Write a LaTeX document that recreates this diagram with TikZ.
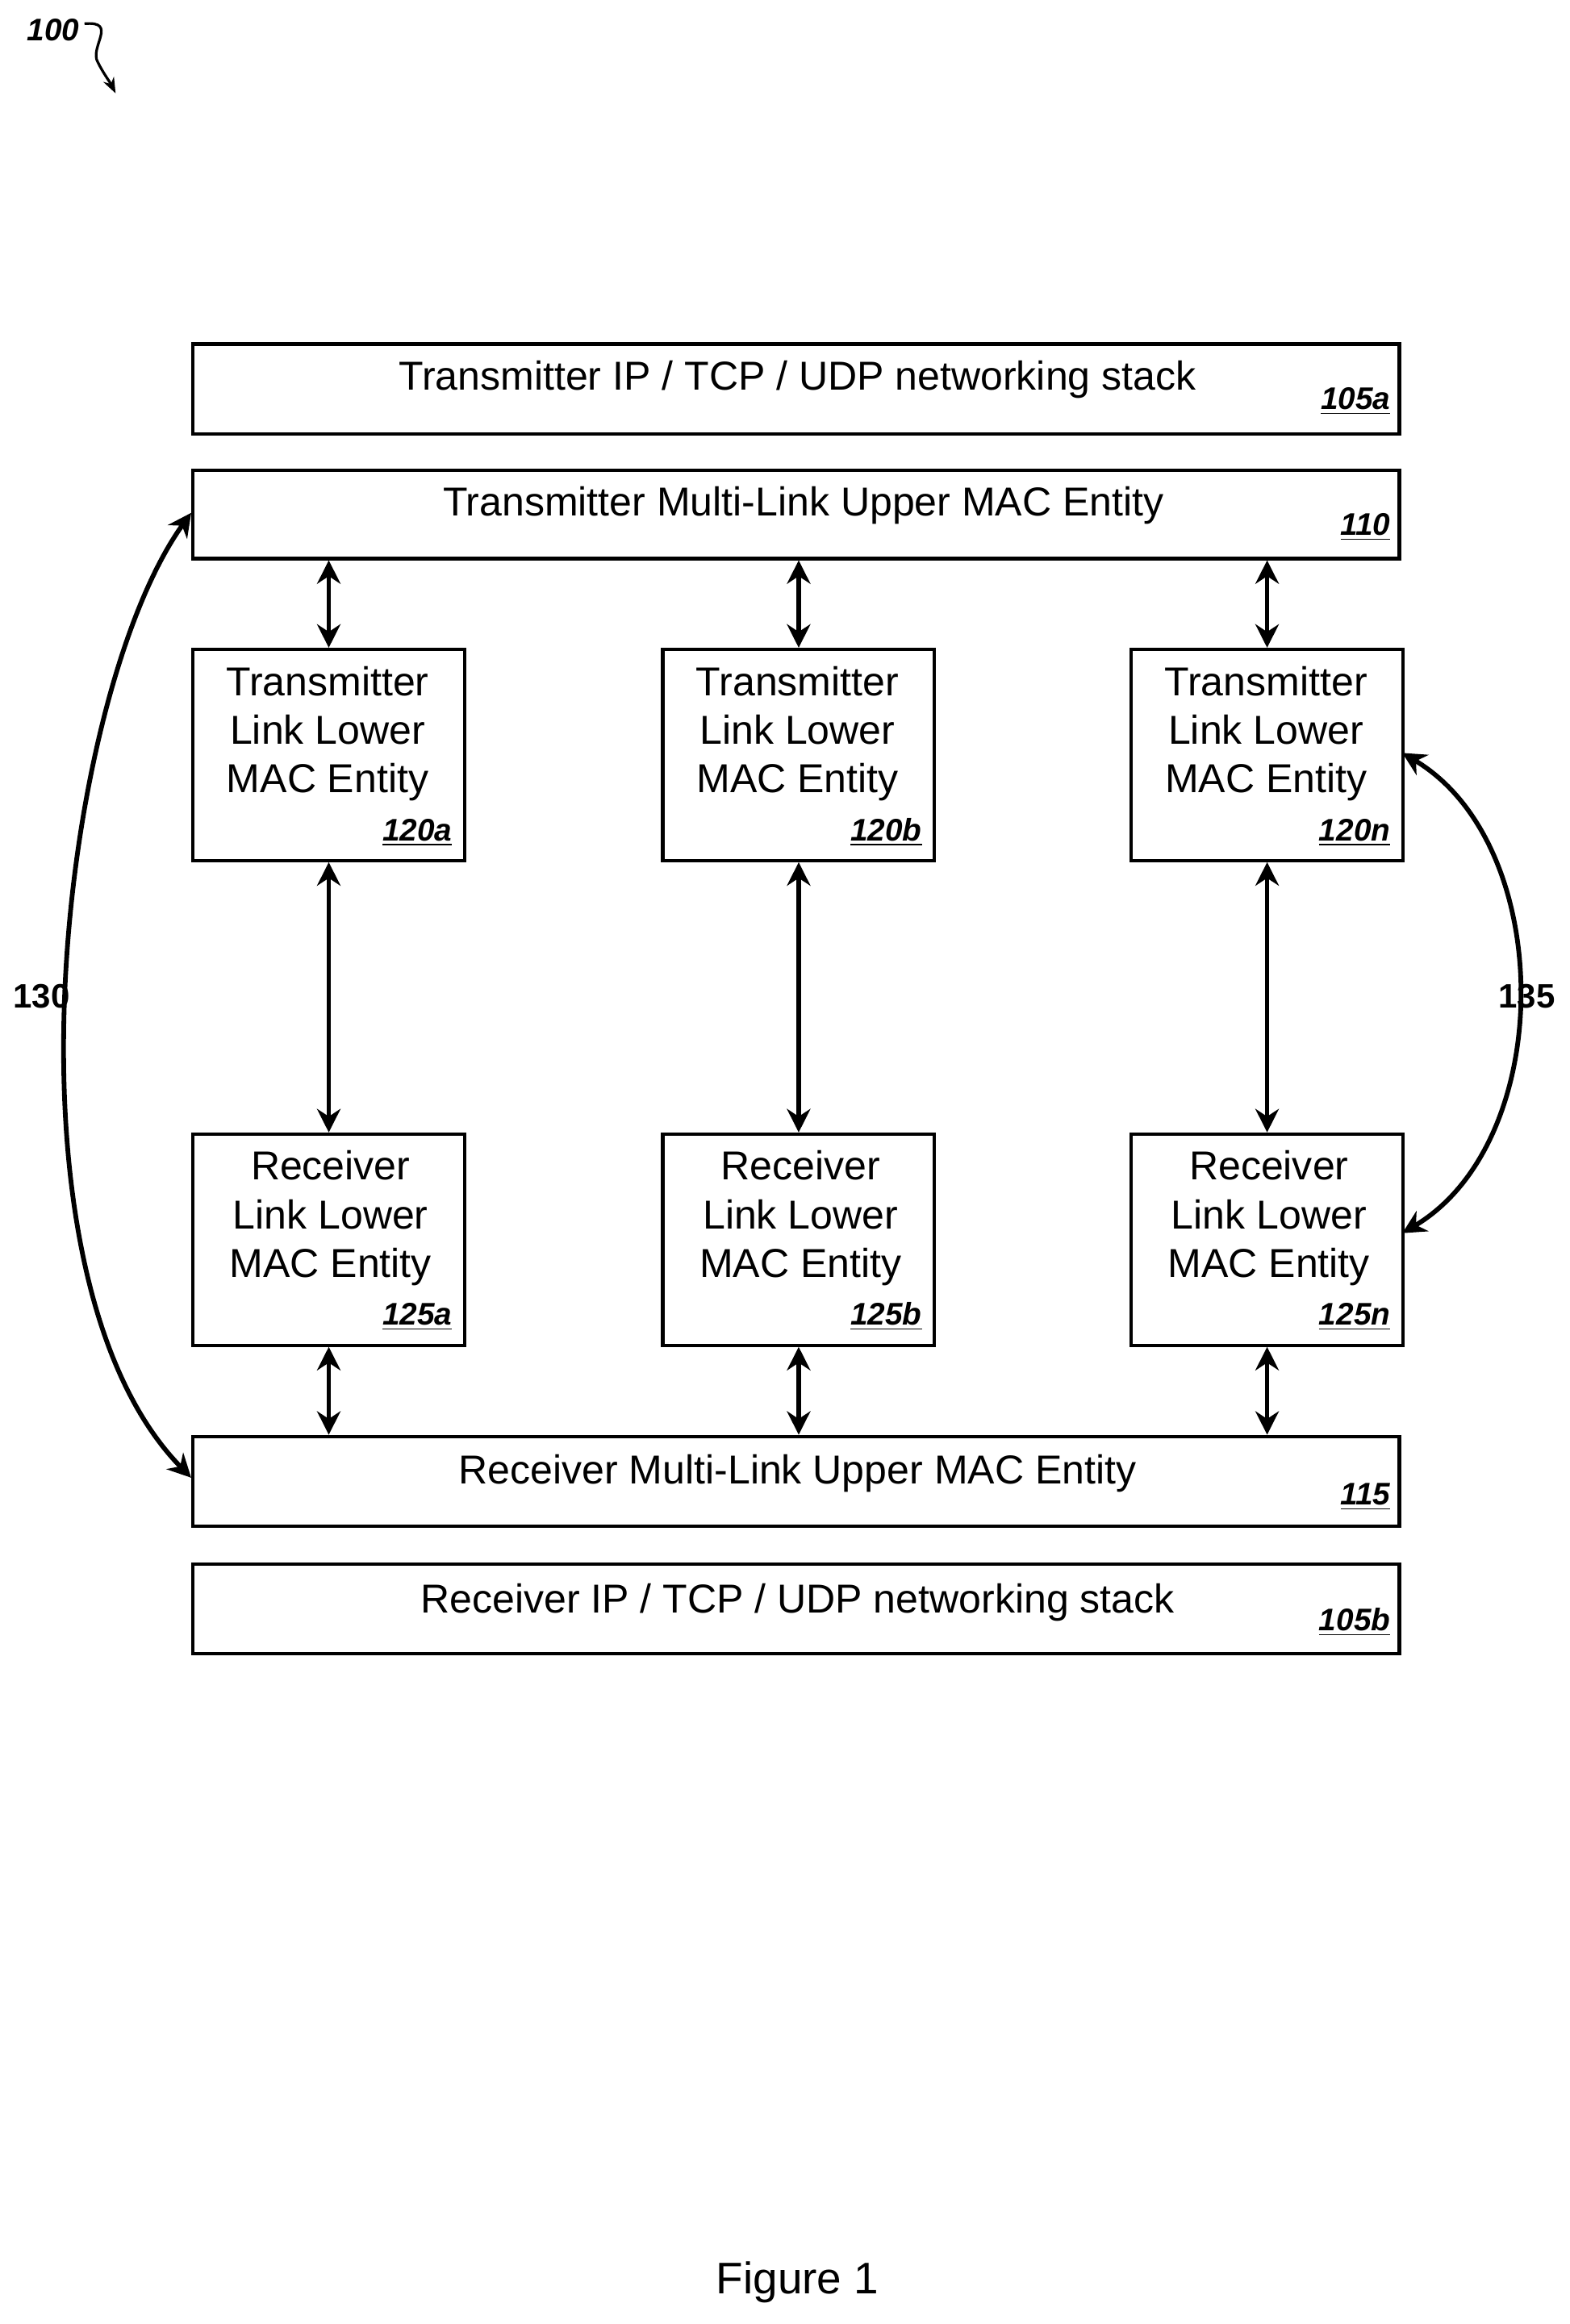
\documentclass[tikz,border=0pt]{standalone}
\usepackage{fontspec}
\setmainfont{Liberation Sans}
\usetikzlibrary{arrows.meta}
\begin{document}
\begin{tikzpicture}[x=0.02cm,y=-0.02cm,
 box/.style={draw,line width=1.3pt,inner sep=0},
 txt/.style={font=\fontsize{15.5}{18.7}\selectfont,align=center},
 lab/.style={font=\fontsize{12}{14}\selectfont\bfseries\itshape,anchor=south east,inner sep=1pt},
 arr/.style={line width=1.8pt,{Stealth[length=9pt,width=9pt]}-{Stealth[length=9pt,width=9pt]}}]
\useasboundingbox (0,0) rectangle (1059,1568);
\newcommand{\ul}[1]{\underline{#1}}
% wide boxes
\node[box,minimum width=817*0.567pt,minimum height=61*0.567pt,anchor=north west] (s105a) at (129,231) {};
\node[txt] at (538,256) {Transmitter IP / TCP / UDP networking stack};
\node[lab] at (940,282) {\ul{105a}};
\node[box,minimum width=817*0.567pt,minimum height=60*0.567pt,anchor=north west] (s110) at (129,316) {};
\node[txt] at (542,341) {Transmitter Multi-Link Upper MAC Entity};
\node[lab] at (940,367) {\ul{110}};
\node[box,minimum width=817*0.567pt,minimum height=61*0.567pt,anchor=north west] (s115) at (129,968) {};
\node[txt] at (538,994) {Receiver Multi-Link Upper MAC Entity};
\node[lab] at (940,1021) {\ul{115}};
\node[box,minimum width=817*0.567pt,minimum height=61*0.567pt,anchor=north west] (s105b) at (129,1054) {};
\node[txt] at (538,1081) {Receiver IP / TCP / UDP networking stack};
\node[lab] at (940,1106) {\ul{105b}};
% small boxes
\foreach \x/\s in {129/a,446/b,762/n}{
 \node[box,minimum width=184*0.567pt,minimum height=143*0.567pt,anchor=north west] (t\s) at (\x,437) {};
 \node[txt] at (\x+92,495) {Transmitter\\Link Lower\\MAC Entity};
 \node[lab] at (\x+178,573) {\ul{120\s}};
 \node[box,minimum width=184*0.567pt,minimum height=143*0.567pt,anchor=north west] (r\s) at (\x,764) {};
 \node[txt] at (\x+94,822) {Receiver\\Link Lower\\MAC Entity};
 \node[lab] at (\x+178,900) {\ul{125\s}};
 \draw[arr] (t\s.north) -- (t\s.north |- s110.south);
 \draw[arr] (t\s.south) -- (r\s.north);
 \draw[arr] (r\s.south) -- (r\s.south |- s115.north);
}
\coordinate (a1) at (129,346); \coordinate (a2) at (129,997);
\draw[arr] (a1) .. controls (40,470) and (-5,860) .. (a2);
\node[font=\fontsize{13}{15}\selectfont\bfseries] (l130) at (28,672) {130};
\coordinate (b1) at (946,508); \coordinate (b2) at (946,832);
\draw[arr] (b1) .. controls (1050,570) and (1050,770) .. (b2);
\node[font=\fontsize{13}{15}\selectfont\bfseries] (l135) at (1030,672) {135};
\node[font=\fontsize{12}{14}\selectfont\bfseries\itshape] (l100) at (36,20) {100};
\coordinate (c1) at (78,63);
\draw[line width=1pt,-{Stealth[length=6pt]}] (57,16) .. controls (80,14) and (60,32) .. (66,42) .. controls (70,50) and (74,55) .. (c1);
\node[font=\fontsize{17}{20}\selectfont] (fig) at (538,1540) {Figure 1};
\end{tikzpicture}
\end{document}
